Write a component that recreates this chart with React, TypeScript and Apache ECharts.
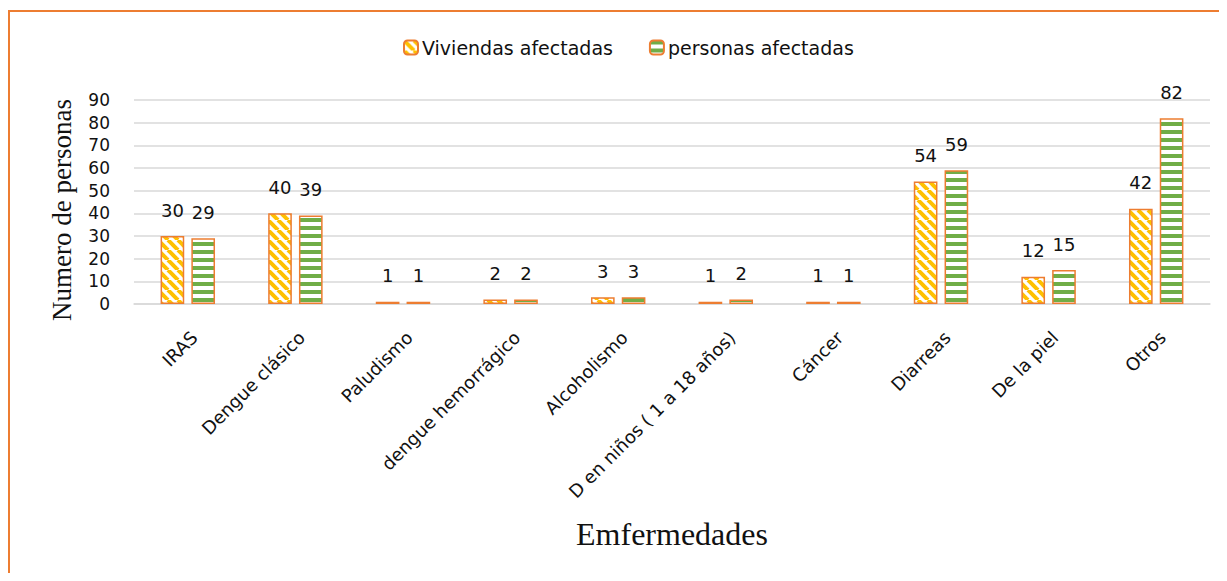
import React, { useEffect, useRef } from "react";
import * as echarts from "echarts";

const categories = [
  "IRAS",
  "Dengue clásico",
  "Paludismo",
  "dengue hemorrágico",
  "Alcoholismo",
  "D en niños ( 1 a 18 años)",
  "Cáncer",
  "Diarreas",
  "De la piel",
  "Otros",
];
const viviendas = [30, 40, 1, 2, 3, 1, 1, 54, 12, 42];
const personas = [29, 39, 1, 2, 3, 2, 1, 59, 15, 82];
const seriesNames = ["Viviendas afectadas", "personas afectadas"];

const ORANGE = "#ED7D31";
const YELLOW = "#FFC000";
const GREEN = "#70AD47";
const FONT = "'DejaVu Sans', 'Open Sans', sans-serif";
const SERIF = "'Liberation Serif', 'DejaVu Serif', serif";

function diagPattern(): HTMLCanvasElement {
  const c = document.createElement("canvas");
  c.width = 10;
  c.height = 10;
  const ctx = c.getContext("2d")!;
  ctx.fillStyle = "#fff";
  ctx.fillRect(0, 0, 10, 10);
  ctx.strokeStyle = YELLOW;
  ctx.lineWidth = 4;
  for (const x0 of [-10, 0, 10]) {
    ctx.beginPath();
    ctx.moveTo(x0, 0);
    ctx.lineTo(x0 + 10, 10);
    ctx.stroke();
  }
  return c;
}

function horizPattern(): HTMLCanvasElement {
  const c = document.createElement("canvas");
  c.width = 8;
  c.height = 8;
  const ctx = c.getContext("2d")!;
  ctx.fillStyle = "#fff";
  ctx.fillRect(0, 0, 8, 8);
  ctx.fillStyle = GREEN;
  ctx.fillRect(0, 0, 8, 4);
  return c;
}

export default function App() {
  const ref = useRef<HTMLDivElement>(null);
  useEffect(() => {
    if (!ref.current) return;
    const chart = echarts.init(ref.current, undefined, { renderer: "svg" });
    const labelCommon = {
      show: true,
      position: "top" as const,
      distance: 17,
      fontFamily: FONT,
      fontSize: 18,
      color: "#111",
    };
    chart.setOption({
      animation: false,
      legend: {
        left: 390,
        top: 23,
        itemWidth: 14,
        itemHeight: 14,
        itemGap: 36,
        textStyle: { fontFamily: FONT, fontSize: 19, color: "#111", padding: [0, 0, 0, -1] },
        data: seriesNames,
      },
      grid: { left: 126, right: 17, top: 90, bottom: 271, containLabel: false },
      xAxis: {
        type: "category",
        data: categories,
        name: "Emfermedades",
        nameLocation: "middle",
        nameGap: 214,
        nameTextStyle: { fontFamily: SERIF, fontSize: 32, color: "#111" },
        axisLine: { show: true, lineStyle: { color: "#D9D9D9", width: 1.5 } },
        axisTick: { show: false },
        axisLabel: {
          rotate: 45,
          interval: 0,
          margin: 24,
          verticalAlign: "top",
          align: "right",
          fontFamily: FONT,
          fontSize: 18,
          color: "#111",
        },
      },
      yAxis: {
        type: "value",
        min: 0,
        max: 90,
        interval: 10,
        name: "Numero de personas",
        nameLocation: "middle",
        nameGap: 59,
        nameTextStyle: {
          fontFamily: SERIF,
          fontSize: 27,
          color: "#111",
          padding: [0, 16, 0, 0],
        },
        axisLine: { show: false },
        axisTick: { show: false },
        splitLine: { lineStyle: { color: "#D9D9D9", width: 1.5 } },
        axisLabel: { margin: 24, fontFamily: FONT, fontSize: 17, color: "#111" },
      },
      series: [
        {
          name: seriesNames[0],
          type: "bar",
          data: viviendas,
          barWidth: "22%",
          barGap: "30%",
          itemStyle: {
            color: { image: diagPattern(), repeat: "repeat" },
            borderColor: ORANGE,
            borderWidth: 1.5,
          },
          label: labelCommon,
        },
        {
          name: seriesNames[1],
          type: "bar",
          data: personas,
          barWidth: "22%",
          barGap: "30%",
          itemStyle: {
            color: { image: horizPattern(), repeat: "repeat" },
            borderColor: ORANGE,
            borderWidth: 1.5,
          },
          label: labelCommon,
        },
      ],
    });
    return () => chart.dispose();
  }, []);
  return (
    <div
      style={{
        position: "relative",
        top: 2,
        width: 1219,
        height: 565,
        borderLeft: `2px solid ${ORANGE}`,
        borderTop: `2px solid ${ORANGE}`,
        boxSizing: "border-box",
      }}
    >
      <div
        ref={ref}
        style={{ position: "absolute", left: -2, top: -2, width: 1219, height: 565 }}
      />
    </div>
  );
}
